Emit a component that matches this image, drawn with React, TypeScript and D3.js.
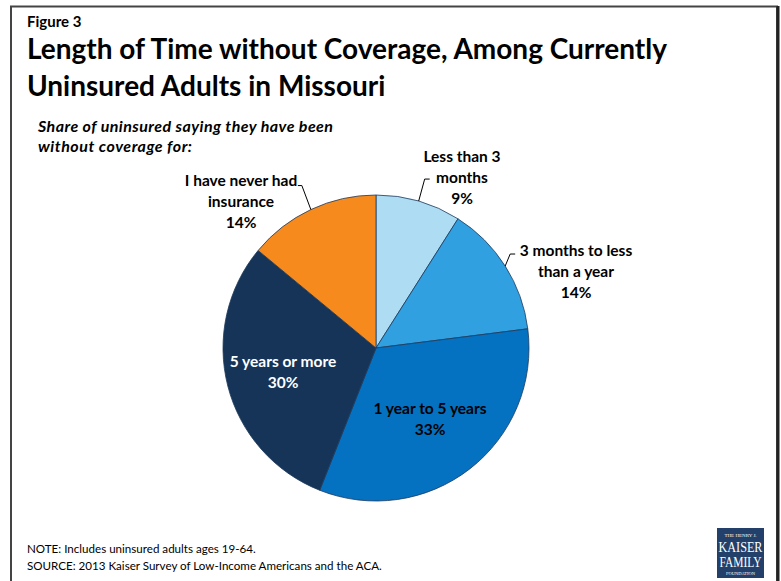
import React from "react";
import * as d3 from "d3";

const categories = [
  "Less than 3 months",
  "3 months to less than a year",
  "1 year to 5 years",
  "5 years or more",
  "I have never had insurance",
];
const values = [9, 14, 33, 30, 14];
const labelLines = [
  ["Less than 3", "months", "9%"],
  ["3 months to less", "than a year", "14%"],
  ["1 year to 5 years", "33%"],
  ["5 years or more", "30%"],
  ["I have never had", "insurance", "14%"],
];
const colors = ["#aedcf3", "#31a0e1", "#0571c1", "#153457", "#f78a1d"];
const textColors = ["#000", "#000", "#000", "#fff", "#000"];

const W = 781;
const H = 581;
const cx = 376;
const cy = 348;
const R = 153;
const font = "Lato, 'Open Sans', sans-serif";

const labelPos: [number, number][] = [
  [462, 162],
  [576, 256],
  [430, 414],
  [283, 367],
  [241, 186],
];

export default function App() {
  const pie = d3.pie<number>().sort(null).value((d) => d);
  const arcs = pie(values);
  const arcGen = d3.arc<d3.PieArcDatum<number>>().innerRadius(0).outerRadius(R);

  const leaderPath = (i: number) => {
    const a = arcs[i];
    const mid = (a.startAngle + a.endAngle) / 2;
    const ex = cx + R * Math.sin(mid);
    const ey = cy - R * Math.cos(mid);
    if (i === 0) {
      return `M${ex},${ey} L${ex + 6},${ey - 22} L${ex + 11},${ey - 22}`;
    }
    if (i === 1) {
      return `M${ex},${ey} L${ex + 5},${ey - 12} L${ex + 10},${ey - 12}`;
    }
    if (i === 4) {
      return `M${ex},${ey} L${ex - 9},${ey - 24} L${ex - 13},${ey - 24}`;
    }
    return "";
  };

  return (
    <svg width={W} height={H} style={{ display: "block", position: "absolute", left: 0, top: 0 }}>
      <rect x={0} y={0} width={W} height={H} fill="#fff" />
      <rect x={11} y={6.5} width={766} height={590} fill="none" stroke="#444" strokeWidth={2} />
      <line x1={778} y1={6} x2={778} y2={H} stroke="#222" strokeWidth={3} />
      <text x={27} y={27} fontFamily={font} fontWeight={700} fontSize={15}>
        Figure 3
      </text>
      <text x={27} y={59} fontFamily={font} fontWeight={700} fontSize={28}>
        Length of Time without Coverage, Among Currently
      </text>
      <text x={27} y={96} fontFamily={font} fontWeight={700} fontSize={28}>
        Uninsured Adults in Missouri
      </text>
      <text x={38} y={132} fontFamily={font} fontWeight={700} fontStyle="italic" fontSize={16} textLength={295} lengthAdjust="spacing">
        Share of uninsured saying they have been
      </text>
      <text x={38} y={152} fontFamily={font} fontWeight={700} fontStyle="italic" fontSize={16} textLength={154} lengthAdjust="spacing">
        without coverage for:
      </text>

      <g>
        {arcs.map((a, i) => (
          <path
            key={categories[i]}
            d={arcGen(a) as string}
            transform={`translate(${cx},${cy})`}
            fill={colors[i]}
            stroke="#1d3a5c"
            strokeWidth={0.8}
          />
        ))}
      </g>
      {[0, 1, 4].map((i) => (
        <path key={"l" + i} d={leaderPath(i)} fill="none" stroke="#000" strokeWidth={1} />
      ))}
      {labelLines.map((lines, i) => (
        <text
          key={"t" + i}
          fontFamily={font}
          fontWeight={700}
          fontSize={15.5}
          fill={textColors[i]}
          textAnchor="middle"
        >
          {lines.map((ln, j) => (
            <tspan key={j} x={labelPos[i][0]} y={labelPos[i][1] + j * 21}>
              {ln}
            </tspan>
          ))}
        </text>
      ))}

      <text x={27} y={553} fontFamily={font} fontSize={11.6}>
        NOTE: Includes uninsured adults ages 19-64.
      </text>
      <text x={27} y={570} fontFamily={font} fontSize={11.6}>
        SOURCE: 2013 Kaiser Survey of Low-Income Americans and the ACA.
      </text>
      <g>
        <rect x={717} y={528} width={47} height={50} fill="#22406a" />
        <text x={740.5} y={537} textAnchor="middle" fill="#fff" fontFamily="'Liberation Serif', serif" fontSize={5}>
          THE HENRY J.
        </text>
        <text x={740.5} y={552} textAnchor="middle" fill="#fff" fontFamily="'Liberation Serif', serif" fontSize={14} textLength={44} lengthAdjust="spacingAndGlyphs">
          KAISER
        </text>
        <text x={740.5} y={567} textAnchor="middle" fill="#fff" fontFamily="'Liberation Serif', serif" fontSize={14} textLength={42} lengthAdjust="spacingAndGlyphs">
          FAMILY
        </text>
        <text x={740.5} y={575} textAnchor="middle" fill="#fff" fontFamily="'Liberation Serif', serif" fontSize={4.5}>
          FOUNDATION
        </text>
      </g>
    </svg>
  );
}
